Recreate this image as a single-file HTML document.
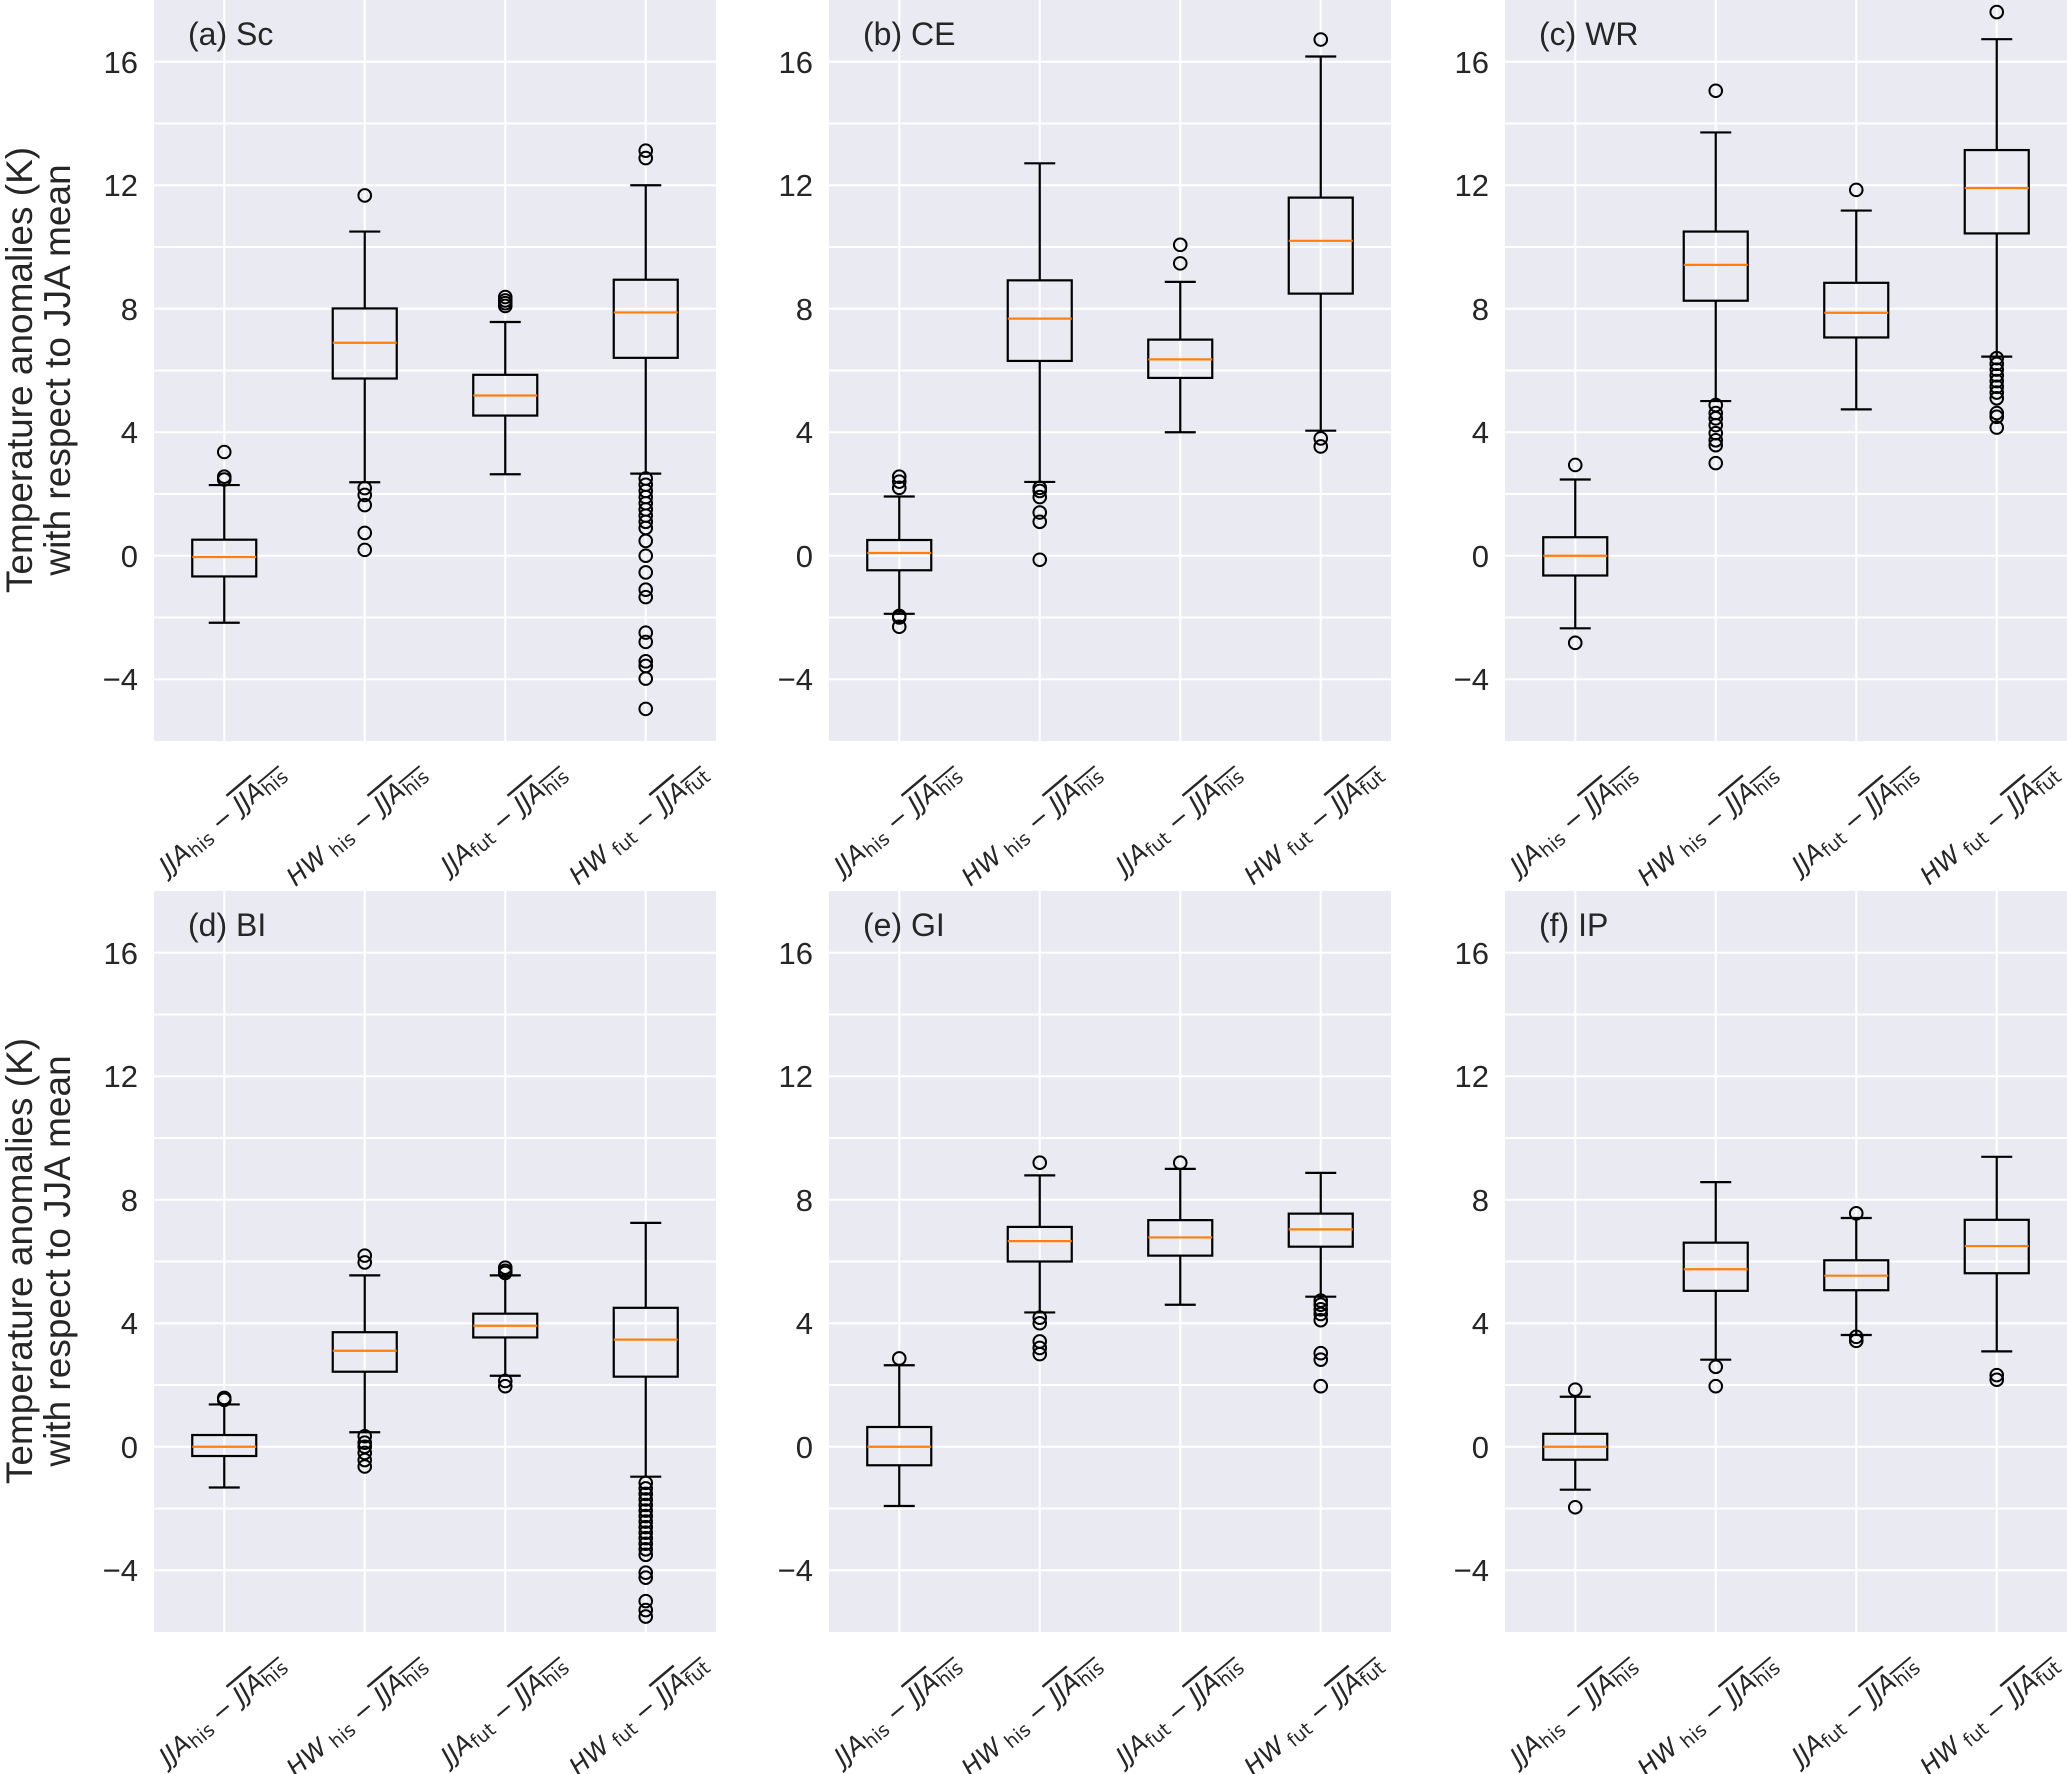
<!DOCTYPE html>
<html><head><meta charset="utf-8"><style>
html,body{margin:0;padding:0;background:#fff;}
svg{display:block;}
.tk{font-family:"Liberation Sans",Arial,sans-serif;font-size:31px;fill:#262626;text-anchor:end;}
.tt{font-family:"Liberation Sans",Arial,sans-serif;font-size:32px;fill:#262626;}
.yl{font-family:"Liberation Sans",Arial,sans-serif;font-size:37px;fill:#262626;text-anchor:middle;}
.xl{font-family:"DejaVu Sans",sans-serif;font-size:25px;font-style:italic;fill:#262626;text-anchor:end;}
.sb{font-size:19px;font-style:normal;}
.mn{font-style:normal;}
</style></head><body>
<svg id="s" width="2067" height="1774" viewBox="0 0 2067 1774" xmlns="http://www.w3.org/2000/svg">
<rect width="2067" height="1774" fill="#fff"/>
<g id="bg"></g>
<g id="plots"></g>

<text class="yl" transform="translate(32,370) rotate(-90)">Temperature anomalies (K)</text>
<text class="yl" transform="translate(70,370) rotate(-90)">with respect to JJA mean</text>
<text class="yl" transform="translate(32,1261) rotate(-90)">Temperature anomalies (K)</text>
<text class="yl" transform="translate(70,1261) rotate(-90)">with respect to JJA mean</text>

<g transform="translate(154,0)">
<text class="tk" x="-16" y="73">16</text><text class="tk" x="-16" y="196">12</text><text class="tk" x="-16" y="320">8</text><text class="tk" x="-16" y="443">4</text><text class="tk" x="-16" y="567">0</text><text class="tk" x="-16" y="690">−4</text>
<text class="tt" x="34" y="45">(a) Sc</text>
</g>
<g transform="translate(829,0)">
<text class="tk" x="-16" y="73">16</text><text class="tk" x="-16" y="196">12</text><text class="tk" x="-16" y="320">8</text><text class="tk" x="-16" y="443">4</text><text class="tk" x="-16" y="567">0</text><text class="tk" x="-16" y="690">−4</text>
<text class="tt" x="34" y="45">(b) CE</text>
</g>
<g transform="translate(1505,0)">
<text class="tk" x="-16" y="73">16</text><text class="tk" x="-16" y="196">12</text><text class="tk" x="-16" y="320">8</text><text class="tk" x="-16" y="443">4</text><text class="tk" x="-16" y="567">0</text><text class="tk" x="-16" y="690">−4</text>
<text class="tt" x="34" y="45">(c) WR</text>
</g>
<g transform="translate(154,891)">
<text class="tk" x="-16" y="73">16</text><text class="tk" x="-16" y="196">12</text><text class="tk" x="-16" y="320">8</text><text class="tk" x="-16" y="443">4</text><text class="tk" x="-16" y="567">0</text><text class="tk" x="-16" y="690">−4</text>
<text class="tt" x="34" y="45">(d) BI</text>
</g>
<g transform="translate(829,891)">
<text class="tk" x="-16" y="73">16</text><text class="tk" x="-16" y="196">12</text><text class="tk" x="-16" y="320">8</text><text class="tk" x="-16" y="443">4</text><text class="tk" x="-16" y="567">0</text><text class="tk" x="-16" y="690">−4</text>
<text class="tt" x="34" y="45">(e) GI</text>
</g>
<g transform="translate(1505,891)">
<text class="tk" x="-16" y="73">16</text><text class="tk" x="-16" y="196">12</text><text class="tk" x="-16" y="320">8</text><text class="tk" x="-16" y="443">4</text><text class="tk" x="-16" y="567">0</text><text class="tk" x="-16" y="690">−4</text>
<text class="tt" x="34" y="45">(f) IP</text>
</g>

<g transform="translate(154,776)">
<text class="xl" transform="translate(133,0) rotate(-40)">JJA<tspan class="sb" dy="4">his</tspan><tspan class="mn" dy="-4"> − </tspan><tspan text-decoration="overline">JJA<tspan class="sb" dy="4">his</tspan></tspan></text>
<text class="xl" transform="translate(274,0) rotate(-40)">HW<tspan class="sb" dy="4"> his</tspan><tspan class="mn" dy="-4"> − </tspan><tspan text-decoration="overline">JJA<tspan class="sb" dy="4">his</tspan></tspan></text>
<text class="xl" transform="translate(414,0) rotate(-40)">JJA<tspan class="sb" dy="4">fut</tspan><tspan class="mn" dy="-4"> − </tspan><tspan text-decoration="overline">JJA<tspan class="sb" dy="4">his</tspan></tspan></text>
<text class="xl" transform="translate(555,0) rotate(-40)">HW<tspan class="sb" dy="4"> fut</tspan><tspan class="mn" dy="-4"> − </tspan><tspan text-decoration="overline">JJA<tspan class="sb" dy="4">fut</tspan></tspan></text>
</g>
<g transform="translate(829,776)">
<text class="xl" transform="translate(133,0) rotate(-40)">JJA<tspan class="sb" dy="4">his</tspan><tspan class="mn" dy="-4"> − </tspan><tspan text-decoration="overline">JJA<tspan class="sb" dy="4">his</tspan></tspan></text>
<text class="xl" transform="translate(274,0) rotate(-40)">HW<tspan class="sb" dy="4"> his</tspan><tspan class="mn" dy="-4"> − </tspan><tspan text-decoration="overline">JJA<tspan class="sb" dy="4">his</tspan></tspan></text>
<text class="xl" transform="translate(414,0) rotate(-40)">JJA<tspan class="sb" dy="4">fut</tspan><tspan class="mn" dy="-4"> − </tspan><tspan text-decoration="overline">JJA<tspan class="sb" dy="4">his</tspan></tspan></text>
<text class="xl" transform="translate(555,0) rotate(-40)">HW<tspan class="sb" dy="4"> fut</tspan><tspan class="mn" dy="-4"> − </tspan><tspan text-decoration="overline">JJA<tspan class="sb" dy="4">fut</tspan></tspan></text>
</g>
<g transform="translate(1505,776)">
<text class="xl" transform="translate(133,0) rotate(-40)">JJA<tspan class="sb" dy="4">his</tspan><tspan class="mn" dy="-4"> − </tspan><tspan text-decoration="overline">JJA<tspan class="sb" dy="4">his</tspan></tspan></text>
<text class="xl" transform="translate(274,0) rotate(-40)">HW<tspan class="sb" dy="4"> his</tspan><tspan class="mn" dy="-4"> − </tspan><tspan text-decoration="overline">JJA<tspan class="sb" dy="4">his</tspan></tspan></text>
<text class="xl" transform="translate(414,0) rotate(-40)">JJA<tspan class="sb" dy="4">fut</tspan><tspan class="mn" dy="-4"> − </tspan><tspan text-decoration="overline">JJA<tspan class="sb" dy="4">his</tspan></tspan></text>
<text class="xl" transform="translate(555,0) rotate(-40)">HW<tspan class="sb" dy="4"> fut</tspan><tspan class="mn" dy="-4"> − </tspan><tspan text-decoration="overline">JJA<tspan class="sb" dy="4">fut</tspan></tspan></text>
</g>
<g transform="translate(154,1667)">
<text class="xl" transform="translate(133,0) rotate(-40)">JJA<tspan class="sb" dy="4">his</tspan><tspan class="mn" dy="-4"> − </tspan><tspan text-decoration="overline">JJA<tspan class="sb" dy="4">his</tspan></tspan></text>
<text class="xl" transform="translate(274,0) rotate(-40)">HW<tspan class="sb" dy="4"> his</tspan><tspan class="mn" dy="-4"> − </tspan><tspan text-decoration="overline">JJA<tspan class="sb" dy="4">his</tspan></tspan></text>
<text class="xl" transform="translate(414,0) rotate(-40)">JJA<tspan class="sb" dy="4">fut</tspan><tspan class="mn" dy="-4"> − </tspan><tspan text-decoration="overline">JJA<tspan class="sb" dy="4">his</tspan></tspan></text>
<text class="xl" transform="translate(555,0) rotate(-40)">HW<tspan class="sb" dy="4"> fut</tspan><tspan class="mn" dy="-4"> − </tspan><tspan text-decoration="overline">JJA<tspan class="sb" dy="4">fut</tspan></tspan></text>
</g>
<g transform="translate(829,1667)">
<text class="xl" transform="translate(133,0) rotate(-40)">JJA<tspan class="sb" dy="4">his</tspan><tspan class="mn" dy="-4"> − </tspan><tspan text-decoration="overline">JJA<tspan class="sb" dy="4">his</tspan></tspan></text>
<text class="xl" transform="translate(274,0) rotate(-40)">HW<tspan class="sb" dy="4"> his</tspan><tspan class="mn" dy="-4"> − </tspan><tspan text-decoration="overline">JJA<tspan class="sb" dy="4">his</tspan></tspan></text>
<text class="xl" transform="translate(414,0) rotate(-40)">JJA<tspan class="sb" dy="4">fut</tspan><tspan class="mn" dy="-4"> − </tspan><tspan text-decoration="overline">JJA<tspan class="sb" dy="4">his</tspan></tspan></text>
<text class="xl" transform="translate(555,0) rotate(-40)">HW<tspan class="sb" dy="4"> fut</tspan><tspan class="mn" dy="-4"> − </tspan><tspan text-decoration="overline">JJA<tspan class="sb" dy="4">fut</tspan></tspan></text>
</g>
<g transform="translate(1505,1667)">
<text class="xl" transform="translate(133,0) rotate(-40)">JJA<tspan class="sb" dy="4">his</tspan><tspan class="mn" dy="-4"> − </tspan><tspan text-decoration="overline">JJA<tspan class="sb" dy="4">his</tspan></tspan></text>
<text class="xl" transform="translate(274,0) rotate(-40)">HW<tspan class="sb" dy="4"> his</tspan><tspan class="mn" dy="-4"> − </tspan><tspan text-decoration="overline">JJA<tspan class="sb" dy="4">his</tspan></tspan></text>
<text class="xl" transform="translate(414,0) rotate(-40)">JJA<tspan class="sb" dy="4">fut</tspan><tspan class="mn" dy="-4"> − </tspan><tspan text-decoration="overline">JJA<tspan class="sb" dy="4">his</tspan></tspan></text>
<text class="xl" transform="translate(555,0) rotate(-40)">HW<tspan class="sb" dy="4"> fut</tspan><tspan class="mn" dy="-4"> − </tspan><tspan text-decoration="overline">JJA<tspan class="sb" dy="4">fut</tspan></tspan></text>
</g>
</svg>
<script>
(function(){
var NS="http://www.w3.org/2000/svg";
var bg=document.getElementById("bg"), pl=document.getElementById("plots");
function el(p,t,a){var e=document.createElementNS(NS,t);for(var k in a)e.setAttribute(k,a[k]);p.appendChild(e);return e;}
var X=[154,829,1505], Y=[0,891], W=562, H=741, U=30.875;
function rng(a,b,n){var r=[];for(var i=0;i<n;i++)r.push(a+(b-a)*i/(n-1));return r;}
var D=[
 [[-2.17,-0.67,-0.04,0.52,2.29,[2.47,2.56,3.36]],
  [2.38,5.74,6.9,8.01,10.5,[11.67,2.19,1.97,1.64,0.74,0.19]],
  [2.64,4.54,5.19,5.86,7.57,[8.38,8.27,8.18,8.09]],
  [2.66,6.41,7.88,8.94,12.0,[13.12,12.88].concat(rng(2.5,0.9,9)).concat([0.48,0,-0.54,-1.1,-1.34,-2.49,-2.79,-3.42,-3.57,-3.98,-4.96])]],
 [[-1.88,-0.47,0.09,0.51,1.92,[2.2,2.4,2.56,-2.0,-2.3,-1.95]],
  [2.39,6.31,7.68,8.92,12.71,[2.2,2.1,1.9,1.4,1.1,-0.13]],
  [4.0,5.76,6.36,7.0,8.87,[9.47,10.07]],
  [4.05,8.49,10.2,11.6,16.17,[16.72,3.8,3.54]]],
 [[-2.35,-0.64,0,0.6,2.47,[2.94,-2.82]],
  [5.01,8.26,9.42,10.5,13.71,[15.06,4.88,4.62,4.45,4.23,3.97,3.74,3.58,3.0]],
  [4.74,7.07,7.87,8.84,11.18,[11.85]],
  [6.45,10.44,11.91,13.14,16.73,[17.61].concat(rng(6.4,5.1,8)).concat([4.62,4.5,4.15])]],
 [[-1.32,-0.3,0,0.38,1.37,[1.52,1.58]],
  [0.47,2.43,3.11,3.71,5.55,[5.97,6.19,0.34,0.13,0,-0.2,-0.43,-0.64]],
  [2.3,3.54,3.92,4.31,5.55,[5.8,5.63,5.7,2.13,1.96]],
  [-0.97,2.27,3.47,4.5,7.25,rng(-1.17,-3.5,14).concat([-4.08,-4.24,-5.0,-5.29,-5.5])]],
 [[-1.92,-0.6,0,0.64,2.64,[2.86]],
  [4.35,6.0,6.66,7.12,8.79,[9.2,4.18,4.0,3.41,3.2,3.0]],
  [4.6,6.19,6.78,7.34,9.0,[9.2]],
  [4.86,6.48,7.04,7.55,8.87,[4.73,4.6,4.45,4.3,4.1,3.03,2.82,1.96]]],
 [[-1.39,-0.42,0,0.42,1.62,[1.85,-1.96]],
  [2.82,5.05,5.75,6.61,8.57,[2.59,1.96]],
  [3.62,5.07,5.54,6.04,7.41,[7.56,3.56,3.43]],
  [3.09,5.62,6.5,7.35,9.39,[2.32,2.17]]]
];
for(var p=0;p<6;p++){
 var x0=X[p%3], y0=Y[Math.floor(p/3)];
 var w=(p%3==2)?2067-x0:W;
 el(bg,"rect",{x:x0,y:y0,width:w,height:H,fill:"#eaeaf2"});
 for(var v=-4;v<=16;v+=2){var yy=y0+(18-v)*U;el(bg,"line",{x1:x0,x2:x0+w,y1:yy,y2:yy,stroke:"#fff","stroke-width":2});}
 for(var i=0;i<4;i++){var xx=x0+70.25+140.5*i;el(bg,"line",{x1:xx,x2:xx,y1:y0,y2:y0+H,stroke:"#fff","stroke-width":2});}
 var bx=D[p];
 for(var i=0;i<4;i++){
  var s=bx[i], cx=x0+70.25+140.5*i;
  var Yv=function(v){return y0+(18-v)*U;};
  var st={stroke:"#000","stroke-width":2.2,fill:"none"};
  el(pl,"line",Object.assign({x1:cx,x2:cx,y1:Yv(s[0]),y2:Yv(s[1])},st));
  el(pl,"line",Object.assign({x1:cx,x2:cx,y1:Yv(s[3]),y2:Yv(s[4])},st));
  el(pl,"line",Object.assign({x1:cx-15.5,x2:cx+15.5,y1:Yv(s[0]),y2:Yv(s[0])},st));
  el(pl,"line",Object.assign({x1:cx-15.5,x2:cx+15.5,y1:Yv(s[4]),y2:Yv(s[4])},st));
  el(pl,"rect",Object.assign({x:cx-32,y:Yv(s[3]),width:64,height:Yv(s[1])-Yv(s[3])},st));
  el(pl,"line",{x1:cx-32,x2:cx+32,y1:Yv(s[2]),y2:Yv(s[2]),stroke:"#ff7f0e","stroke-width":2.2});
  for(var j=0;j<s[5].length;j++){el(pl,"circle",{cx:cx,cy:Yv(s[5][j]),r:6.3,fill:"none",stroke:"#000","stroke-width":2});}
 }
}
})();
</script>
</body></html>
